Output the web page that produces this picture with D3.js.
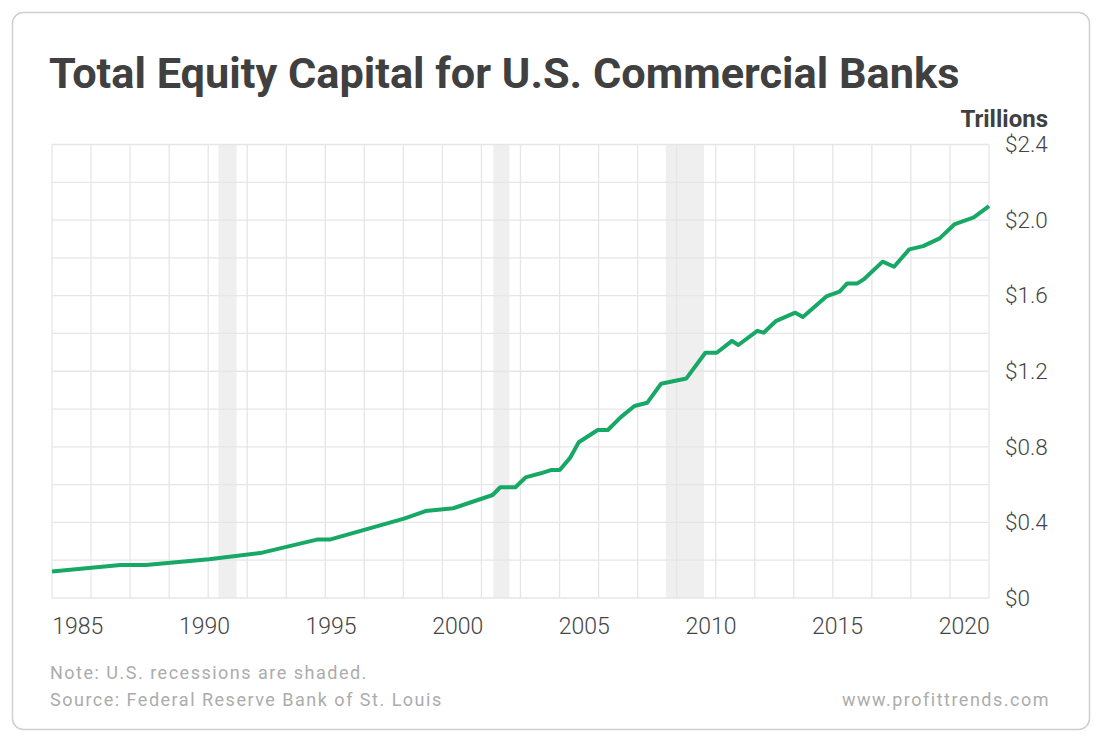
<!DOCTYPE html>
<html>
<head>
<meta charset="utf-8">
<script src="https://cdn.jsdelivr.net/npm/d3@7"></script>
<style>
  body { margin: 0; background: #fff; }
  svg { display: block; }
</style>
</head>
<body>
<div id="chart"></div>
<script>
// data (year, trillions of dollars)
const years = [1984.0, 1986.7, 1987.7, 1990.2, 1992.3, 1994.5, 1995.0, 1997.9, 1998.75, 1999.85,
  2001.4, 2001.7, 2002.3, 2002.7, 2003.3, 2003.7, 2004.05, 2004.45, 2004.8, 2005.55,
  2005.95, 2006.45, 2007.0, 2007.5, 2008.05, 2009.05, 2009.8, 2010.25, 2010.85, 2011.1,
  2011.85, 2012.1, 2012.6, 2013.35, 2013.65, 2014.6, 2015.1, 2015.4, 2015.8, 2016.05,
  2016.8, 2017.25, 2017.85, 2018.4, 2019.05, 2019.65, 2020.4, 2021.0];
const equity = [0.14, 0.175, 0.175, 0.205, 0.24, 0.31, 0.31, 0.42, 0.46, 0.475,
  0.545, 0.586, 0.586, 0.638, 0.66, 0.677, 0.677, 0.74, 0.824, 0.889,
  0.889, 0.956, 1.016, 1.033, 1.134, 1.162, 1.298, 1.298, 1.361, 1.339,
  1.414, 1.404, 1.467, 1.51, 1.487, 1.598, 1.621, 1.665, 1.665, 1.686,
  1.78, 1.753, 1.845, 1.862, 1.903, 1.979, 2.014, 2.074];

// recessions (start, end) as shaded in the picture
const recessionStart = [1990.57, 2001.43, 2008.24];
const recessionEnd = [1991.29, 2002.06, 2009.75];

const xTicks = [1985, 1990, 1995, 2000, 2005, 2010, 2015, 2020];
const yTicks = [0, 0.4, 0.8, 1.2, 1.6, 2.0, 2.4];
const yTickLabels = ["$0", "$0.4", "$0.8", "$1.2", "$1.6", "$2.0", "$2.4"];

const width = 1100, height = 741;
const margin = {top: 144.5, right: 111, bottom: 143, left: 52};
const plotW = width - margin.left - margin.right;
const plotH = height - margin.top - margin.bottom;

const svg = d3.select("#chart").append("svg")
  .attr("width", width)
  .attr("height", height);

// card
svg.append("rect")
  .attr("x", 12.5).attr("y", 12.5)
  .attr("width", 1077).attr("height", 717)
  .attr("rx", 11)
  .attr("fill", "#fff")
  .attr("stroke", "#cfcfcf")
  .attr("stroke-width", 1.5);

svg.append("text")
  .attr("x", 49).attr("y", 88)
  .attr("font-family", "Roboto, sans-serif")
  .attr("font-weight", 700)
  .attr("font-size", 43.3)
  .attr("fill", "#404040")
  .text("Total Equity Capital for U.S. Commercial Banks");

svg.append("text")
  .attr("x", 1048).attr("y", 127)
  .attr("text-anchor", "end")
  .attr("font-family", "Roboto, sans-serif")
  .attr("font-weight", 700)
  .attr("font-size", 24)
  .attr("fill", "#404040")
  .text("Trillions");

const g = svg.append("g")
  .attr("transform", "translate(" + margin.left + "," + margin.top + ")");

const x = d3.scaleLinear().domain([1984, 2021]).range([0, plotW]);
const y = d3.scaleLinear().domain([0, 2.4]).range([plotH, 0]);

// recession shading
g.selectAll("rect.rec")
  .data(recessionStart)
  .enter().append("rect")
  .attr("class", "rec")
  .attr("x", d => x(d))
  .attr("y", 0)
  .attr("width", (d, i) => x(recessionEnd[i]) - x(d))
  .attr("height", plotH)
  .attr("fill", "#efefef");

// grid: horizontal every 0.2, vertical in 24 even columns
g.append("g")
  .selectAll("line")
  .data(d3.range(0, 2.41, 0.2))
  .enter().append("line")
  .attr("x1", 0).attr("x2", plotW)
  .attr("y1", d => y(d)).attr("y2", d => y(d))
  .attr("stroke", "#e6e6e6")
  .attr("stroke-width", 1.3);

g.append("g")
  .selectAll("line")
  .data(d3.range(25))
  .enter().append("line")
  .attr("x1", d => d * plotW / 24).attr("x2", d => d * plotW / 24)
  .attr("y1", 0).attr("y2", plotH)
  .attr("stroke", "#e6e6e6")
  .attr("stroke-width", 1.3);

// axes
const xAxis = g.append("g")
  .attr("transform", "translate(0," + plotH + ")")
  .call(d3.axisBottom(x).tickValues(xTicks).tickFormat(d3.format("d")).tickSize(0).tickPadding(20));
xAxis.select(".domain").remove();
xAxis.selectAll("text")
  .attr("font-family", "Roboto, sans-serif")
  .attr("font-size", 23)
  .attr("font-weight", 300)
  .attr("fill", "#444");

const yAxis = g.append("g")
  .attr("transform", "translate(" + plotW + ",0)")
  .call(d3.axisRight(y).tickValues(yTicks).tickFormat((d, i) => yTickLabels[i]).tickSize(0).tickPadding(16));
yAxis.select(".domain").remove();
yAxis.selectAll("text")
  .attr("font-family", "Roboto, sans-serif")
  .attr("font-size", 22.5)
  .attr("font-weight", 300)
  .attr("fill", "#444");

// line
const line = d3.line()
  .x((d, i) => x(years[i]))
  .y(d => y(d));

g.append("path")
  .datum(equity)
  .attr("d", line)
  .attr("fill", "none")
  .attr("stroke", "#17a865")
  .attr("stroke-width", 4)
  .attr("stroke-linejoin", "round");

// footer
const foot = svg.append("g")
  .attr("font-family", "Roboto, sans-serif")
  .attr("font-size", 18)
  .attr("letter-spacing", 1.5)
  .attr("fill", "#acacac");
foot.append("text").attr("x", 50).attr("y", 679).text("Note: U.S. recessions are shaded.");
foot.append("text").attr("x", 50).attr("y", 706).text("Source: Federal Reserve Bank of St. Louis");
foot.append("text").attr("x", 1050).attr("y", 706).attr("text-anchor", "end").text("www.profittrends.com");
</script>
</body>
</html>
